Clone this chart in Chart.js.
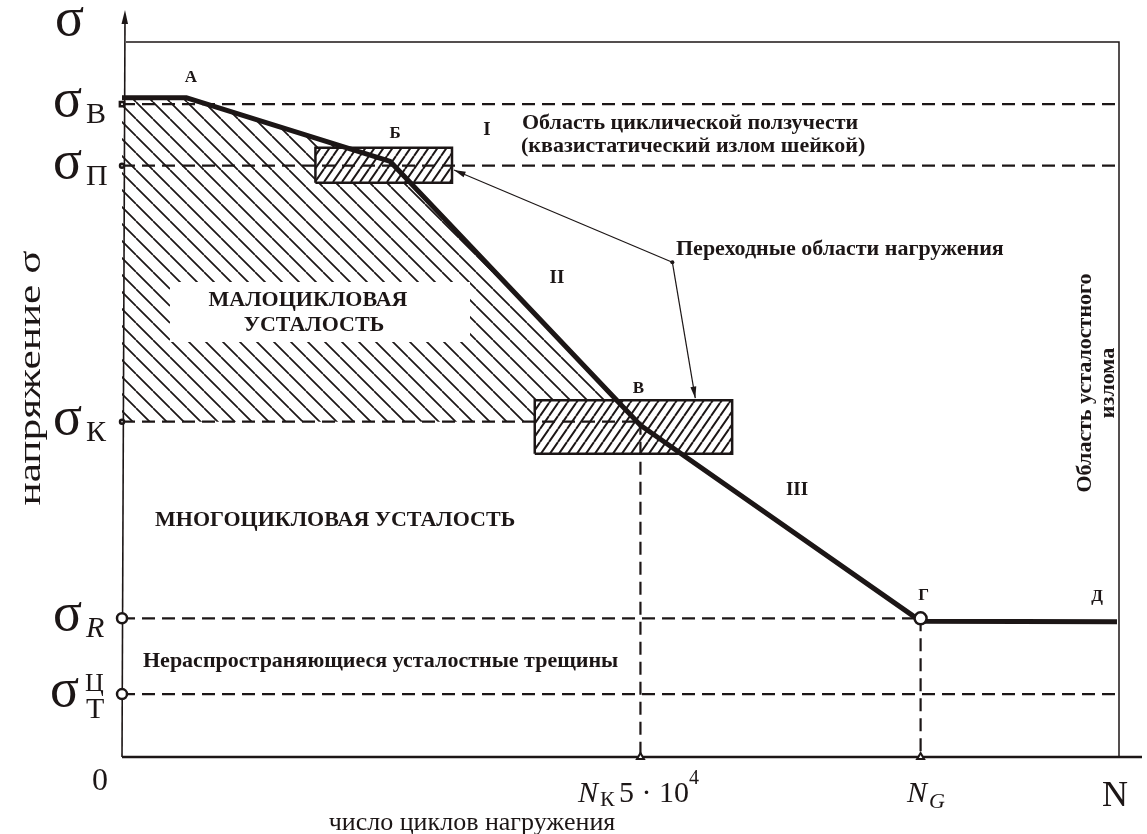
<!DOCTYPE html>
<html>
<head>
<meta charset="utf-8">
<script src="https://cdn.jsdelivr.net/npm/chart.js@4.4.1/dist/chart.umd.min.js"></script>
<style>
  html, body { margin: 0; background: #fff; }
  canvas { display: block; }
</style>
</head>
<body>
<canvas id="fatigue" width="1147" height="834"></canvas>
<script>
// levels of stress (share of plot height, 0..100)
const levelNames = ['B', 'П', 'К', 'R', 'T'];
const levels = [91.3, 82.7, 46.9, 19.4, 8.8];
// fatigue curve А-Б-В-Г-Д
const curveX = [0, 6.5, 26.9, 52.0, 80.1, 99.8];
const curveY = [92.2, 92.2, 83.3, 46.4, 19.0, 18.9];
const curveNames = ['', 'А', 'Б', 'В', 'Г', 'Д'];
// cycle numbers on the N axis
const nK = 52.0;
const nG = 80.1;
// low-cycle fatigue area: top follows the curve, bottom is σК
const lcfX = [0, 6.5, 26.9, 51.7];
const lcfY = [92.2, 92.2, 83.3, 46.9];
// transition zones [x1, x2, y1, y2]
const zoneB = [19.4, 33.1, 80.3, 85.2];
const zoneV = [41.4, 61.2, 42.4, 49.9];

const INK = '#1c1616';
const SERIF = '"Liberation Serif", "DejaVu Serif", serif';

function hatch(w, h, dir, bg, lw) {
  const c = document.createElement('canvas');
  c.width = w; c.height = h;
  const g = c.getContext('2d');
  if (bg) { g.fillStyle = bg; g.fillRect(0, 0, w, h); }
  g.strokeStyle = INK;
  g.lineWidth = lw;
  g.beginPath();
  for (let k = -1; k <= 1; k++) {
    if (dir > 0) { g.moveTo(k * w, h); g.lineTo(k * w + w, 0); }
    else { g.moveTo(k * w, 0); g.lineTo(k * w + w, h); }
  }
  g.stroke();
  return g.createPattern(c, 'repeat');
}

const backHatch = hatch(17, 17, -1, null, 1.7);
const zoneHatch = hatch(9, 13, 1, '#fff', 2);

function rect(z) {
  return [
    {x: z[0], y: z[2]}, {x: z[1], y: z[2]}, {x: z[1], y: z[3]},
    {x: z[0], y: z[3]}, {x: z[0], y: z[2]}
  ];
}
function seg(x1, y1, x2, y2) { return [{x: x1, y: y1}, {x: x2, y: y2}]; }

const levelEnds = [100, 100, nK, nG, 100];
const dashStyle = {
  borderColor: INK, borderWidth: 2.2, borderDash: [13, 7],
  pointRadius: 0, showLine: true, order: 2
};
const dashed = levels.map((v, i) => ({data: seg(0, v, levelEnds[i], v), ...dashStyle}));
dashed.push({data: seg(nK, levels[2], nK, 0), ...dashStyle});
dashed.push({data: seg(nG, levels[3], nG, 0), ...dashStyle});

const markerPts = levels.map(v => ({x: 0, y: v}));
markerPts.push({x: nG, y: levels[3]});
const markerR = [3, 2, 2, 5, 5, 6];
const markerStyle = ['rect', 'circle', 'circle', 'circle', 'circle', 'circle'];

const decor = {
  id: 'decor',
  beforeDatasetsDraw(chart) {
    const {ctx, scales: {x, y}} = chart;
    const x0 = x.getPixelForValue(0), x1 = x.getPixelForValue(100);
    const y0 = y.getPixelForValue(0), y1 = y.getPixelForValue(100);
    ctx.save();
    ctx.strokeStyle = INK;
    // frame top and right
    ctx.lineWidth = 1.5;
    ctx.beginPath();
    ctx.moveTo(x0 + 4, y1); ctx.lineTo(x1, y1); ctx.lineTo(x1, y0);
    ctx.stroke();
    // y axis with arrow
    ctx.lineWidth = 1.6;
    ctx.beginPath();
    ctx.moveTo(x0, y0); ctx.lineTo(x0 + 3, 16);
    ctx.stroke();
    ctx.fillStyle = INK;
    ctx.beginPath();
    ctx.moveTo(x0 + 3, 10); ctx.lineTo(x0 - 0.5, 24); ctx.lineTo(x0 + 6, 24);
    ctx.closePath(); ctx.fill();
    // x axis
    ctx.lineWidth = 2.4;
    ctx.beginPath();
    ctx.moveTo(x0, y0); ctx.lineTo(1142, y0);
    ctx.stroke();
    ctx.restore();
  },
  afterDatasetsDraw(chart) {
    const {ctx, scales: {x, y}} = chart;
    const px = v => x.getPixelForValue(v);
    const py = v => y.getPixelForValue(v);
    ctx.save();
    ctx.strokeStyle = INK;

    // white gap behind low-cycle text
    ctx.fillStyle = '#fff';
    ctx.fillRect(170, 282, 300, 60);
    ctx.fillStyle = INK;

    // arrows to transition zones
    const hub = {x: px(55.2), y: py(69.2)};
    const tips = [{x: px(zoneB[1]) + 2, y: py(82.1)}, {x: px(57.5), y: py(zoneV[3]) - 2}];
    ctx.lineWidth = 1.2;
    tips.forEach(t => {
      ctx.beginPath(); ctx.moveTo(hub.x, hub.y); ctx.lineTo(t.x, t.y); ctx.stroke();
      const a = Math.atan2(t.y - hub.y, t.x - hub.x);
      ctx.beginPath();
      ctx.moveTo(t.x, t.y);
      ctx.lineTo(t.x - 12 * Math.cos(a - 0.25), t.y - 12 * Math.sin(a - 0.25));
      ctx.lineTo(t.x - 12 * Math.cos(a + 0.25), t.y - 12 * Math.sin(a + 0.25));
      ctx.closePath(); ctx.fill();
    });
    ctx.beginPath(); ctx.arc(hub.x, hub.y, 2, 0, Math.PI * 2); ctx.fill();

    // σ labels on the left
    ctx.textBaseline = 'alphabetic';
    ctx.textAlign = 'left';
    levels.forEach((v, i) => {
      const yy = py(v);
      const nm = levelNames[i];
      ctx.font = '54px ' + SERIF;
      ctx.fillText('σ', nm === 'T' ? 50 : 53, yy + 12);
      ctx.font = (nm === 'R' ? 'italic ' : '') + '30px ' + SERIF;
      ctx.fillText(nm, 86, yy + (nm === 'T' ? 24 : 19));
      if (nm === 'T') {
        ctx.font = '26px ' + SERIF;
        ctx.fillText('Ц', 85, yy - 3);
      }
    });
    ctx.font = '54px ' + SERIF;
    ctx.fillText('σ', 55, 35);

    // x axis labels
    ctx.font = '32px ' + SERIF;
    ctx.fillText('0', 92, 790);
    ctx.font = 'italic 30px ' + SERIF;
    ctx.fillText('N', 578, 802);
    ctx.fillText('N', 907, 802);
    ctx.font = '22px ' + SERIF;
    ctx.fillText('К', 600, 806);
    ctx.font = 'italic 22px ' + SERIF;
    ctx.fillText('G', 929, 808);
    ctx.font = '30px ' + SERIF;
    ctx.fillText('5 · 10', 619, 802);
    ctx.font = '20px ' + SERIF;
    ctx.fillText('4', 689, 784);
    ctx.font = '36px ' + SERIF;
    ctx.fillText('N', 1102, 806);

    // axis titles
    ctx.font = '26px ' + SERIF;
    ctx.textAlign = 'center';
    ctx.fillText('число циклов нагружения', 472, 830);
    ctx.save();
    ctx.translate(40, 378);
    ctx.rotate(-Math.PI / 2);
    ctx.font = '32px ' + SERIF;
    const yTitle = 'напряжение σ';
    ctx.scale(255 / ctx.measureText(yTitle).width, 1);
    ctx.fillText(yTitle, 0, 0);
    ctx.restore();

    // point names and zone numbers
    ctx.font = 'bold 17px ' + SERIF;
    ctx.textBaseline = 'middle';
    const nameOff = [[0, 0], [4, -20], [5, -28], [-2, -37], [3, -26], [-20, -25]];
    curveNames.forEach((n, i) => {
      if (!n) return;
      ctx.fillText(n, px(curveX[i]) + nameOff[i][0], py(curveY[i]) + nameOff[i][1]);
    });
    ctx.font = 'bold 19px ' + SERIF;
    ctx.fillText('I', 487, 130);
    ctx.fillText('II', 557, 278);
    ctx.fillText('III', 797, 490);

    // region captions
    ctx.font = 'bold 22px ' + SERIF;
    ctx.textAlign = 'left';
    ctx.fillText('Область циклической ползучести', 522, 123);
    ctx.fillText('(квазистатический излом шейкой)', 521, 146);
    ctx.fillText('Переходные области нагружения', 676, 249);
    ctx.fillText('МНОГОЦИКЛОВАЯ УСТАЛОСТЬ', 155, 520);
    ctx.fillText('Нераспространяющиеся усталостные трещины', 143, 661);
    ctx.textAlign = 'center';
    ctx.fillText('МАЛОЦИКЛОВАЯ', 308, 300);
    ctx.fillText('УСТАЛОСТЬ', 314, 325);
    ctx.save();
    ctx.translate(1085, 383);
    ctx.rotate(-Math.PI / 2);
    ctx.fillText('Область усталостного', 0, 0);
    ctx.fillText('излома', 0, 23);
    ctx.restore();

    ctx.restore();
  }
};

new Chart(document.getElementById('fatigue'), {
  type: 'scatter',
  data: {
    datasets: [
      {
        data: curveX.map((v, i) => ({x: v, y: curveY[i]})),
        showLine: true, borderColor: INK, borderWidth: 5,
        borderJoinStyle: 'round', pointRadius: 0, order: 0
      },
      {
        data: markerPts,
        pointRadius: markerR, pointStyle: markerStyle,
        pointBackgroundColor: '#fff', pointBorderColor: INK,
        pointBorderWidth: 2.5, showLine: false, clip: false, order: -1
      },
      {
        data: [{x: nK, y: 0}, {x: nG, y: 0}],
        pointRadius: 4, pointStyle: 'triangle',
        pointBackgroundColor: '#fff', pointBorderColor: INK,
        pointBorderWidth: 2, showLine: false, clip: false, order: -1
      },
      ...dashed,
      {
        data: rect(zoneB), showLine: true, fill: 'shape',
        backgroundColor: zoneHatch, borderColor: INK, borderWidth: 2.5,
        pointRadius: 0, order: 3
      },
      {
        data: rect(zoneV), showLine: true, fill: 'shape',
        backgroundColor: zoneHatch, borderColor: INK, borderWidth: 2.5,
        pointRadius: 0, order: 3
      },
      {
        data: lcfX.map((v, i) => ({x: v, y: lcfY[i]})),
        showLine: true, fill: {value: levels[2]},
        backgroundColor: backHatch, borderWidth: 0, borderColor: 'rgba(0,0,0,0)',
        pointRadius: 0, order: 4
      }
    ]
  },
  options: {
    responsive: false,
    animation: false,
    layout: { padding: { left: 122, right: 28, top: 42, bottom: 77 } },
    scales: {
      x: { type: 'linear', min: 0, max: 100, display: false },
      y: { type: 'linear', min: 0, max: 100, display: false }
    },
    plugins: {
      legend: { display: false },
      tooltip: { enabled: false },
      filler: { propagate: false }
    }
  },
  plugins: [decor]
});
</script>
</body>
</html>
